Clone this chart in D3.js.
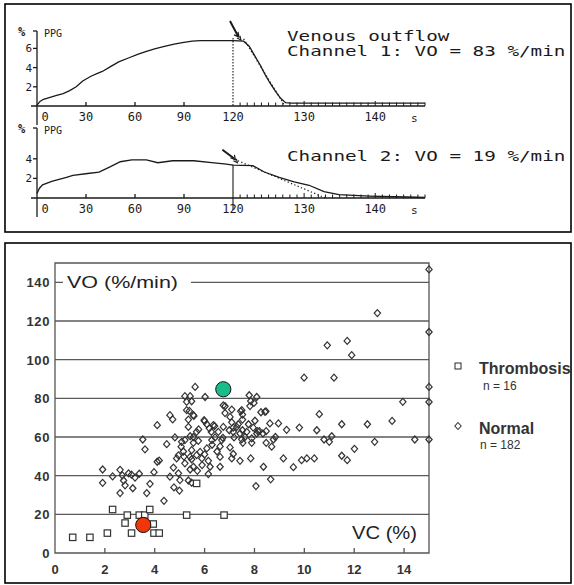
<!DOCTYPE html>
<html><head><meta charset="utf-8">
<script src="https://cdn.jsdelivr.net/npm/d3@7"></script>
<style>body{margin:0;background:#fff}svg{display:block}</style>
</head><body>
<svg id="chart" width="574" height="585"></svg>
<script>
// ---- PPG recordings: [time (s), PPG (%)] ----
const ch1Trace = [[0,0.1],[2,0.5],[4,0.7],[8,0.9],[12,1.1],[16,1.3],[20,1.6],[24,2.0],[28,2.6],[33,3.1],[37,3.4],[40,3.6],[45,4.1],[50,4.6],[56,5.0],[62,5.4],[67,5.7],[72,5.95],[78,6.2],[84,6.45],[89,6.6],[95,6.75],[100,6.8],[110,6.8],[120,6.8],[121.5,6.75],[122.3,6.2],[123,5.3],[123.8,4.3],[124.5,3.3],[125.2,2.4],[126,1.5],[126.7,0.8],[127.4,0.35],[128.2,0.3],[147,0.3]];
const ch1Fit = [[121.5,7.0],[127.3,0]];
const ch2Trace = [[0,0.45],[1.5,1.0],[3.4,1.35],[9,1.7],[18,2.1],[22,2.3],[31,2.5],[38,2.65],[45,3.2],[51,3.7],[58,3.9],[67,3.9],[74,3.6],[83,3.8],[96,3.8],[107,3.6],[116,3.45],[120,3.35],[122.8,3.3],[124.4,2.65],[126.5,2.1],[128.6,1.65],[130.7,1.3],[132.8,0.65],[134.9,0.35],[139.2,0.2],[144.4,0.1],[147,0.05]];
const ch2Fit = [[120.7,3.8],[133,0]];
const timeTicks = [0,30,60,90,120,130,140];
const ch1YTicks = [2,4,6];
const ch2YTicks = [2,4];

// ---- VO vs VC scatter: [VC (%), VO (%/min)] ----
const thrombosis = [[0.71,8.1],[1.40,8.1],[2.10,10.3],[2.31,22.5],[2.81,15.5],[2.90,19.6],[3.07,10.3],[3.38,19.6],[3.60,19.6],[3.80,22.5],[3.94,15.0],[3.97,10.3],[4.18,10.3],[5.28,19.6],[6.78,19.6],[5.68,36.0]];
const normal = [[1.91,43.2],[1.91,36.3],[2.31,39.6],[2.61,43.0],[2.70,40.2],[2.75,37.5],[2.81,35.0],[2.61,31.0],[2.95,41.2],[3.07,40.5],[3.21,39.0],[3.12,33.5],[3.38,41.0],[3.52,58.7],[3.61,53.6],[3.68,31.0],[3.81,35.8],[3.97,41.8],[4.10,66.1],[4.10,47.2],[4.18,47.8],[4.37,27.0],[4.48,56.3],[4.61,71.3],[4.72,69.1],[4.61,39.5],[4.75,44.2],[4.81,59.8],[4.88,48.9],[4.95,50.5],[4.95,41.2],[5.01,37.7],[4.77,33.9],[4.99,32.3],[5.08,57.5],[5.06,55.0],[5.15,52.5],[5.21,58.4],[5.21,46.4],[5.17,49.9],[5.28,78.2],[5.21,81.1],[5.42,81.1],[5.39,73.5],[5.35,69.0],[5.55,71.3],[5.62,85.9],[5.35,65.2],[5.42,60.4],[5.55,57.0],[5.48,53.2],[5.42,49.7],[5.48,48.5],[5.42,43.2],[5.55,44.6],[5.35,37.5],[5.48,36.4],[5.68,62.7],[5.76,63.9],[5.68,50.6],[5.71,42.5],[5.82,52.3],[5.89,48.9],[5.98,68.7],[6.02,80.7],[6.09,66.6],[6.19,64.5],[6.09,54.1],[6.15,47.7],[6.22,44.6],[6.15,40.8],[6.35,66.1],[6.29,58.4],[6.27,62.6],[6.42,59.8],[6.55,62.7],[6.62,55.1],[6.62,49.7],[6.62,44.6],[6.75,65.2],[6.69,58.4],[6.75,76.4],[6.82,72.4],[6.82,75.9],[6.99,63.5],[7.02,70.4],[7.02,54.6],[7.09,74.2],[7.09,67.6],[7.09,48.9],[7.15,62.7],[7.18,59.8],[7.15,51.2],[7.29,65.2],[7.35,66.6],[7.42,61.8],[7.42,47.7],[7.49,73.9],[7.52,71.6],[7.52,69.0],[7.52,63.5],[7.53,57.0],[7.49,58.8],[7.62,60.0],[7.69,62.7],[7.76,66.6],[7.79,81.6],[7.85,78.6],[7.82,76.0],[7.98,77.6],[8.09,80.7],[7.85,48.9],[7.89,57.0],[7.89,59.3],[7.95,64.8],[8.02,68.4],[8.09,61.8],[8.20,63.0],[8.26,72.8],[8.42,73.0],[8.34,61.8],[8.47,63.0],[8.47,57.0],[8.36,44.6],[8.06,34.6],[8.65,38.1],[8.62,67.0],[8.76,58.7],[8.69,55.0],[8.84,60.0],[8.96,67.0],[9.16,48.9],[9.29,63.7],[9.56,44.4],[9.80,64.9],[9.89,48.0],[10.1,48.9],[10.4,48.9],[9.99,90.7],[10.5,63.5],[10.6,71.8],[10.79,58.7],[11.0,57.5],[11.1,60.4],[10.92,107.4],[11.19,90.7],[11.5,66.6],[11.5,50.3],[11.72,48.0],[11.72,109.7],[11.9,102.3],[12.01,53.9],[12.53,66.6],[12.82,57.5],[12.93,124.1],[13.52,68.3],[13.95,78.2],[14.43,58.7],[15.0,146.7],[15.0,114.3],[15.0,85.9],[15.0,78.1],[15.0,58.7],[5.28,73.9],[5.48,78.5],[6.00,68.2],[6.40,65.7],[8.13,63.0],[6.73,59.6],[7.15,64.8],[5.57,70.9],[5.55,60.0],[6.30,56.0],[5.90,45.5],[6.00,51.0],[7.45,73.3],[8.46,73.3],[5.75,58.0],[6.50,52.5]];
const channel1Case = [6.75, 84.7];
const channel2Case = [3.54, 14.5];
const voTicks = [0,20,40,60,80,100,120,140];
const vcTicks = [0,2,4,6,8,10,12,14];

const svg = d3.select("#chart");
const ink = "#1a1a1a";
const mono = "'DejaVu Sans Mono', 'Liberation Mono', monospace";
const sans = "'Liberation Sans', Arial, sans-serif";

// ================= PPG panel =================
svg.append("rect").attr("x",5).attr("y",4).attr("width",566).attr("height",228)
  .attr("fill","none").attr("stroke","#000").attr("stroke-width",1.6);

// time axis is compressed before 120 s and expanded after it
const tx = d3.scaleLinear().domain([0,120,147]).range([37,233,425]);

function ppgChart(opts){
  const {y, trace, fit, yTicks, base, topY, label, labelY, arrow, cursorTop, cursorDash} = opts;
  const g = svg.append("g");
  // y axis
  g.append("line").attr("x1",tx(0)).attr("x2",tx(0)).attr("y1",topY).attr("y2",base+19)
    .attr("stroke",ink).attr("stroke-width",1.3);
  g.append("line").attr("x1",tx(0)-4).attr("x2",tx(0)).attr("y1",topY).attr("y2",topY)
    .attr("stroke",ink).attr("stroke-width",1.3);
  g.append("text").attr("x",18).attr("y",topY+5).text("%")
    .attr("font-family",mono).attr("font-size",12).attr("font-weight","bold").attr("fill",ink);
  g.append("text").attr("x",44).attr("y",topY+6).text("PPG")
    .attr("font-family",mono).attr("font-size",10).attr("fill",ink);
  yTicks.forEach(v=>{
    g.append("line").attr("x1",tx(0)-4).attr("x2",tx(0)).attr("y1",y(v)).attr("y2",y(v))
      .attr("stroke",ink).attr("stroke-width",1.3);
    g.append("text").attr("x",tx(0)-5).attr("y",y(v)+4).attr("text-anchor","end").text(v)
      .attr("font-family",mono).attr("font-size",11).attr("fill",ink);
  });
  // time axis
  g.append("line").attr("x1",tx(0)-6).attr("x2",tx(147)).attr("y1",base).attr("y2",base)
    .attr("stroke",ink).attr("stroke-width",1.3);
  [30,60,90].forEach(t=>g.append("line").attr("x1",tx(t)).attr("x2",tx(t))
    .attr("y1",base).attr("y2",base-4).attr("stroke",ink).attr("stroke-width",1.3));
  d3.range(121,148).forEach(t=>g.append("line").attr("x1",tx(t)).attr("x2",tx(t))
    .attr("y1",base).attr("y2",base-(t%10===0?5:3.5)).attr("stroke",ink).attr("stroke-width",1));
  timeTicks.forEach(t=>{
    g.append("text").attr("x",t===0?tx(0)+8:tx(t)).attr("y",base+15).attr("text-anchor","middle")
      .text(t).attr("font-family",mono).attr("font-size",12).attr("fill",ink);
  });
  g.append("text").attr("x",tx(145.5)).attr("y",base+16).attr("text-anchor","middle").text("s")
    .attr("font-family",mono).attr("font-size",11).attr("fill",ink);
  // cursor at 120 s
  g.append("line").attr("x1",tx(120)).attr("x2",tx(120)).attr("y1",cursorTop).attr("y2",cursorDash?base:base+12)
    .attr("stroke",ink).attr("stroke-width",1.1).attr("stroke-dasharray",cursorDash?"1.5,1.5":null);
  // recorded trace and fitted outflow slope
  const line = d3.line().x(d=>tx(d[0])).y(d=>y(d[1]));
  g.append("path").attr("d",line(trace)).attr("fill","none").attr("stroke",ink).attr("stroke-width",1.3);
  g.append("path").attr("d",line(fit)).attr("fill","none").attr("stroke",ink)
    .attr("stroke-width",1.3).attr("stroke-dasharray","1.2,2.4");
  // marker arrow
  const [ax,ay] = [tx(arrow[0]), y(arrow[1])];
  g.append("line").attr("x1",ax-arrow[2]).attr("y1",ay-arrow[3]).attr("x2",ax).attr("y2",ay)
    .attr("stroke",ink).attr("stroke-width",2);
  g.append("path").attr("d",`M${ax-4},${ay-1}L${ax+1},${ay+1}L${ax},${ay-4}`)
    .attr("fill","none").attr("stroke",ink).attr("stroke-width",1.2);
  g.append("path").attr("d",`M${ax-1},${ay+2}L${ax+3},${ay+4}L${ax+2},${ay}`)
    .attr("fill","none").attr("stroke",ink).attr("stroke-width",1.1);
  // caption, wide printer-style lettering
  label.forEach((s,i)=>{
    g.append("text").attr("x",287).attr("y",labelY+i*15).text(s)
      .attr("font-family",mono).attr("font-size",13.5).attr("fill",ink)
      .attr("textLength",s.length*11.6).attr("lengthAdjust","spacingAndGlyphs");
  });
}

const y1 = d3.scaleLinear().domain([0,7]).range([106,106-7*9.6]);
ppgChart({y:y1, trace:ch1Trace, fit:ch1Fit, yTicks:ch1YTicks, base:106, topY:31,
  label:["Venous outflow","Channel 1: VO = 83 %/min"], labelY:41,
  arrow:[120.7,7.3,8,15], cursorTop:38, cursorDash:true});

const y2 = d3.scaleLinear().domain([0,4]).range([198,198-4*9.8]);
ppgChart({y:y2, trace:ch2Trace, fit:ch2Fit, yTicks:ch2YTicks, base:198, topY:128,
  label:["Channel 2: VO = 19 %/min"], labelY:161,
  arrow:[120.2,4.0,12,9], cursorTop:y2(3.4), cursorDash:false});

// ================= VO / VC scatter panel =================
svg.append("rect").attr("x",5).attr("y",243).attr("width",566).attr("height",340)
  .attr("fill","none").attr("stroke","#000").attr("stroke-width",1.6);

const x = d3.scaleLinear().domain([0,15]).range([55,429]);
const y = d3.scaleLinear().domain([0,150]).range([553,263]);
const p = svg.append("g");

// frame and horizontal grid
voTicks.filter(v=>v>0).forEach(v=>p.append("line").attr("x1",x(0)).attr("x2",x(15))
  .attr("y1",y(v)).attr("y2",y(v)).attr("stroke","#5a5a5a").attr("stroke-width",1.3));
p.append("path").attr("d",`M${x(0)},${y(150)}H${x(15)}V${y(0)}H${x(0)}Z`)
  .attr("fill","none").attr("stroke","#555").attr("stroke-width",1.3);

voTicks.forEach(v=>p.append("text").attr("x",50).attr("y",y(v)+5).attr("text-anchor","end")
  .text(v).attr("font-family",sans).attr("font-size",13).attr("font-weight","bold")
  .attr("letter-spacing",0.6).attr("fill","#333"));
vcTicks.forEach(v=>{
  if(v>0) p.append("line").attr("x1",x(v)).attr("x2",x(v)).attr("y1",y(0)).attr("y2",y(0)-5)
    .attr("stroke","#555").attr("stroke-width",1.3);
  p.append("text").attr("x",x(v)).attr("y",574).attr("text-anchor","middle").text(v)
    .attr("font-family",sans).attr("font-size",13).attr("font-weight","bold").attr("fill","#333");
});

// axis titles
p.append("rect").attr("x",x(0)+8).attr("y",y(140)-12).attr("width",128).attr("height",24).attr("fill","#fff");
p.append("text").attr("x",x(0)+12).attr("y",y(140)+6).text("VO (%/min)")
  .attr("font-family",sans).attr("font-size",17).attr("fill","#222")
  .attr("textLength",111).attr("lengthAdjust","spacingAndGlyphs");
p.append("text").attr("x",352).attr("y",539).text("VC (%)")
  .attr("font-family",sans).attr("font-size",18).attr("fill","#222")
  .attr("textLength",65).attr("lengthAdjust","spacingAndGlyphs");

// markers
const diamond = (cx,cy,r=3.5)=>`M${cx},${cy-r}L${cx+r*0.9},${cy}L${cx},${cy+r}L${cx-r*0.9},${cy}Z`;
p.selectAll("path.normal").data(normal).join("path").attr("class","normal")
  .attr("d",d=>diamond(x(d[0]),y(d[1]))).attr("fill","none").attr("stroke","#333").attr("stroke-width",1.2);
p.selectAll("rect.thr").data(thrombosis).join("rect").attr("class","thr")
  .attr("x",d=>x(d[0])-3.2).attr("y",d=>y(d[1])-3.2).attr("width",6.4).attr("height",6.4)
  .attr("fill","#fff").attr("stroke","#333").attr("stroke-width",1.2);

p.append("circle").attr("cx",x(channel1Case[0])).attr("cy",y(channel1Case[1])).attr("r",7.6)
  .attr("fill","#19bd8b").attr("stroke","#111").attr("stroke-width",1);
p.append("circle").attr("cx",x(channel2Case[0])).attr("cy",y(channel2Case[1])).attr("r",7.6)
  .attr("fill","#f2360c").attr("stroke","#111").attr("stroke-width",1);

// legend
const lg = svg.append("g");
lg.append("rect").attr("x",455).attr("y",363).attr("width",6).attr("height",6)
  .attr("fill","#fff").attr("stroke","#3a3a3a").attr("stroke-width",1.1);
lg.append("text").attr("x",479).attr("y",374).text("Thrombosis")
  .attr("font-family",sans).attr("font-size",16).attr("font-weight","bold").attr("fill","#333");
lg.append("text").attr("x",483).attr("y",390).text("n = 16")
  .attr("font-family",sans).attr("font-size",12).attr("fill","#333");
lg.append("path").attr("d",diamond(458,426)).attr("fill","none").attr("stroke","#3a3a3a").attr("stroke-width",1.1);
lg.append("text").attr("x",479).attr("y",434).text("Normal")
  .attr("font-family",sans).attr("font-size",16).attr("font-weight","bold").attr("fill","#333");
lg.append("text").attr("x",480).attr("y",449).text("n = 182")
  .attr("font-family",sans).attr("font-size",12).attr("fill","#333");
</script>
</body></html>
